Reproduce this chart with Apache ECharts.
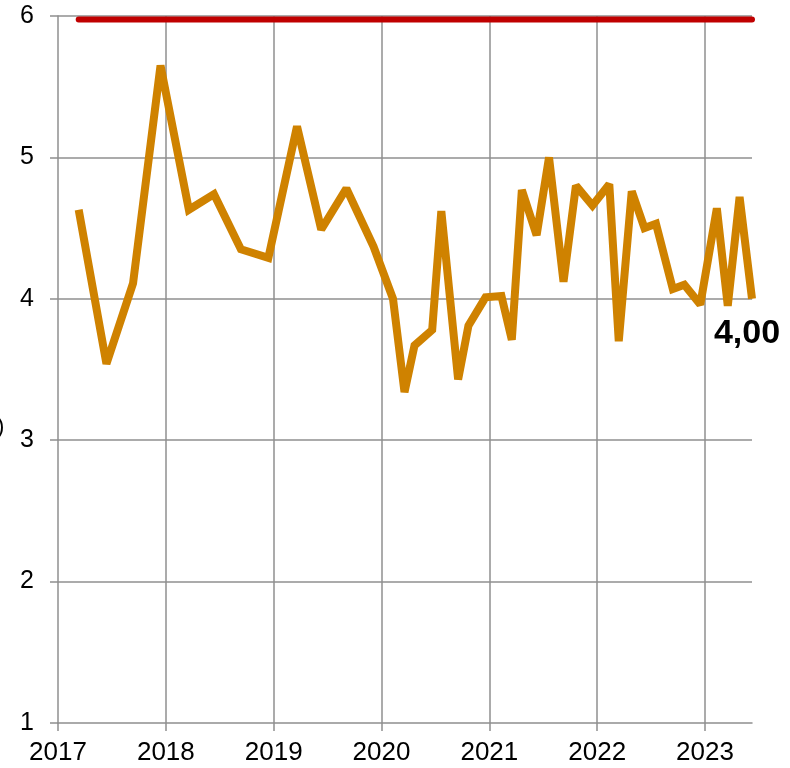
<!DOCTYPE html>
<html>
<head>
<meta charset="utf-8">
<script src="https://cdn.jsdelivr.net/npm/echarts@6/dist/echarts.min.js"></script>
<style>
  html, body { margin: 0; padding: 0; background: #fff; }
  #chart { width: 790px; height: 768px; }
</style>
</head>
<body>
<div id="chart"></div>
<script>
// observation dates
const dates = [
    '2017-03-12', '2017-06-14', '2017-09-12', '2017-12-14',
    '2018-03-20', '2018-06-13', '2018-09-12', '2018-12-14',
    '2019-03-21', '2019-06-11', '2019-09-04', '2019-12-05',
    '2020-02-09', '2020-03-19', '2020-04-22', '2020-06-21', '2020-07-22', '2020-09-17', '2020-10-22', '2020-12-19',
    '2021-02-11', '2021-03-18', '2021-04-21', '2021-06-10', '2021-07-22', '2021-09-09', '2021-10-21', '2021-12-16',
    '2022-02-11', '2022-03-15', '2022-04-28', '2022-06-10', '2022-07-19', '2022-09-14', '2022-10-23', '2022-12-16',
    '2023-02-10', '2023-03-19', '2023-04-28', '2023-06-09'
]

// orange series
const rateValues = [
    4.63, 3.54, 4.11, 5.65,
    4.63, 4.74, 4.35, 4.29,
    5.22, 4.49, 4.78, 4.37,
    4.00, 3.34, 3.67, 3.78, 4.62, 3.43, 3.81, 4.01,
    4.02, 3.71, 4.77, 4.45, 5.00, 4.12, 4.80, 4.66,
    4.81, 3.70, 4.76, 4.50, 4.53, 4.07, 4.10, 3.96,
    4.64, 3.95, 4.72, 4.00
]

// red line level
const targetValue = 5.975

const yearTicks = [2017, 2018, 2019, 2020, 2021, 2022, 2023]
const yTicks = [1, 2, 3, 4, 5, 6]

// date string -> fractional year
const toYear = (s) => {
    const d = new Date(s + 'T00:00:00Z')
    const y = d.getUTCFullYear()
    const start = Date.UTC(y, 0, 1)
    const end = Date.UTC(y + 1, 0, 1)
    return y + (d.getTime() - start) / (end - start)
}

const xs = dates.map(toYear)
const rateData = xs.map((x, i) => [x, rateValues[i]])
const targetData = xs.map(x => [x, targetValue])
const lastPoint = rateData[rateData.length - 1]

const GRID_COLOR = '#8f8f8f'
const ORANGE = '#cf8200'
const FONT = 'Liberation Sans, Arial, sans-serif'

let myChart = echarts.init(document.getElementById('chart'))

let option = {
    animation: false,
    backgroundColor: '#fff',
    grid: {
        left: 58,
        right: 38,
        top: 16,
        bottom: 45
    },
    graphic: [{
        type: 'text',
        left: -30,
        top: 416,
        style: {
            text: '(%)',
            font: '22px ' + FONT,
            fill: '#000'
        }
    }],
    xAxis: {
        type: 'value',
        min: yearTicks[0],
        max: 'dataMax',
        interval: 1,
        axisLine: { show: true, lineStyle: { color: GRID_COLOR, width: 1.5 } },
        axisTick: {
            show: true, inside: false, length: 8,
            customValues: yearTicks,
            lineStyle: { color: GRID_COLOR, width: 1.5 }
        },
        axisLabel: {
            customValues: yearTicks,
            margin: 17,
            color: '#000',
            fontSize: 26,
            fontFamily: FONT,
            formatter: v => String(Math.round(v))
        },
        splitLine: {
            show: true,
            showMinLine: false,
            lineStyle: { color: GRID_COLOR, width: 1.5 }
        }
    },
    yAxis: {
        type: 'value',
        min: yTicks[0],
        max: yTicks[yTicks.length - 1],
        interval: 1,
        axisLine: { show: true, lineStyle: { color: GRID_COLOR, width: 1.5 } },
        axisTick: { show: true, inside: false, length: 8, lineStyle: { color: GRID_COLOR, width: 1.5 } },
        axisLabel: {
            margin: 24,
            color: '#000',
            fontSize: 25,
            fontFamily: FONT
        },
        splitLine: {
            show: true,
            showMinLine: false,
            lineStyle: { color: GRID_COLOR, width: 1.5 }
        }
    },
    series: [
        {
            name: 'target',
            type: 'line',
            data: targetData,
            showSymbol: false,
            symbol: 'none',
            lineStyle: { color: '#c00000', width: 6, cap: 'round' },
            z: 1
        },
        {
            name: 'rate',
            type: 'line',
            data: rateData,
            showSymbol: false,
            symbol: 'none',
            lineStyle: { color: ORANGE, width: 8, join: 'miter', miterLimit: 2, cap: 'butt' },
            z: 3
        },
        {
            // label for the latest value
            name: 'last',
            type: 'scatter',
            data: [lastPoint],
            symbolSize: 1,
            itemStyle: { color: ORANGE },
            label: {
                show: true,
                position: 'bottom',
                distance: 17,
                offset: [-5, 0],
                formatter: p => p.value[1].toFixed(2).replace('.', ','),
                color: '#000',
                opacity: 1,
                fontSize: 34,
                fontWeight: 'bold',
                fontFamily: FONT
            },
            emphasis: { disabled: true },
            silent: true,
            z: 4
        }
    ]
}

myChart.setOption(option)
</script>
</body>
</html>
